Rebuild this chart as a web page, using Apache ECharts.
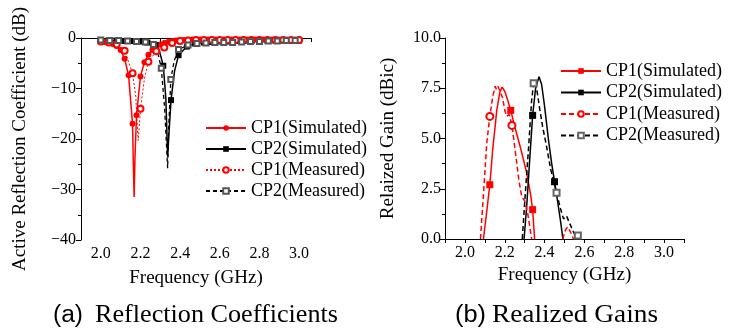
<!DOCTYPE html>
<html>
<head>
<meta charset="utf-8">
<script src="https://cdn.jsdelivr.net/npm/echarts@6/dist/echarts.min.js"></script>
<style>
  html, body { margin: 0; padding: 0; background: #fff; }
  #main { width: 753px; height: 331px; }
</style>
</head>
<body>
<div id="main"></div>
<script>
// ---- (a) active reflection coefficient, [GHz, dB] ----
// points drawn with a marker
const cp1SimS = [[2.00,-0.7],[2.02,-0.8],[2.04,-0.9],[2.06,-1.2],[2.08,-1.6],[2.10,-2.4],[2.12,-4.1],[2.14,-7.4],
  [2.16,-17.0],[2.18,-15.3],[2.20,-7.6],[2.22,-4.8],[2.24,-3.3],[2.26,-2.4],[2.28,-1.8],[2.30,-1.3],[2.32,-1.0],
  [2.34,-0.8],[2.36,-0.6],[2.38,-0.5],[2.40,-0.4],[2.42,-0.4],[2.44,-0.35],[2.46,-0.3],[2.48,-0.3],[2.50,-0.3],
  [2.52,-0.3],[2.54,-0.3],[2.56,-0.3],[2.58,-0.3],[2.60,-0.3],[2.62,-0.3],[2.64,-0.3],[2.66,-0.3],[2.68,-0.3],
  [2.70,-0.3],[2.72,-0.3],[2.74,-0.3],[2.76,-0.3],[2.78,-0.3],[2.80,-0.3],[2.82,-0.3],[2.84,-0.3],[2.86,-0.3],
  [2.88,-0.3],[2.90,-0.3],[2.92,-0.3],[2.94,-0.3],[2.96,-0.3],[2.98,-0.3],[3.00,-0.3]];
// points on the curve only (no marker)
const cp1SimX = [[2.164,-25.0],[2.168,-31.5],[2.172,-24.0]];

const cp1MeaS = [[2.00,-0.7],[2.04,-0.9],[2.08,-1.3],[2.12,-2.5],[2.16,-7.0],[2.20,-14.0],[2.24,-4.7],[2.28,-2.6],
  [2.32,-1.9],[2.36,-1.0],[2.40,-0.6],[2.44,-0.5],[2.48,-0.4],[2.52,-0.4],[2.56,-0.4],[2.60,-0.4],[2.64,-0.4],
  [2.68,-0.4],[2.72,-0.4],[2.76,-0.4],[2.80,-0.4],[2.84,-0.4],[2.88,-0.4],[2.92,-0.4],[2.96,-0.4],[3.00,-0.4]];
const cp1MeaX = [[2.176,-11.5],[2.188,-20.3],[2.193,-18.0],[2.22,-8.0]];

const cp2SimS = [[2.00,-0.5],[2.04,-0.5],[2.08,-0.5],[2.12,-0.6],[2.16,-0.6],[2.20,-0.7],[2.235,-0.9],[2.275,-1.4],
  [2.315,-5.5],[2.354,-12.3],[2.392,-3.4],[2.434,-1.7],[2.476,-1.1],[2.52,-0.9],[2.56,-0.8],[2.60,-0.7],[2.64,-0.7],
  [2.68,-0.6],[2.72,-0.6],[2.76,-0.6],[2.80,-0.6],[2.84,-0.5],[2.88,-0.5],[2.92,-0.5],[2.96,-0.5],[3.00,-0.5]];
const cp2SimX = [[2.295,-2.5],[2.328,-12.0],[2.337,-23.5],[2.345,-18.0],[2.372,-6.5]];

const cp2MeaS = [[2.00,-0.4],[2.045,-0.5],[2.09,-0.5],[2.135,-0.6],[2.18,-0.7],[2.225,-0.8],[2.265,-1.3],[2.305,-6.0],
  [2.353,-8.2],[2.392,-2.3],[2.44,-1.4],[2.485,-1.1],[2.53,-1.0],[2.575,-0.9],[2.62,-0.9],[2.665,-0.9],[2.71,-0.8],
  [2.755,-0.7],[2.80,-0.7],[2.845,-0.6],[2.89,-0.6],[2.935,-0.5],[2.98,-0.5]];
const cp2MeaX = [[2.285,-2.5],[2.322,-14.0],[2.337,-25.8],[2.343,-17.0],[2.37,-4.5],[3.00,-0.5]];

// ---- (b) realized gain, [GHz, dBic] ----
const g1SimS = [[2.125,2.7],[2.23,6.4],[2.34,1.46]];
const g1SimX = [[2.093,0],[2.11,1.4],[2.14,4.5],[2.16,6.4],[2.175,7.3],[2.187,7.56],[2.20,7.35],[2.215,6.9],
  [2.25,5.6],[2.28,4.5],[2.31,3.3],[2.33,2.2],[2.35,0]];

const g1MeaS = [[2.125,6.1],[2.236,5.65]];
const g1MeaX = [[2.078,0],[2.095,2.5],[2.11,4.8],[2.14,7.1],[2.152,7.6],[2.158,7.45],[2.165,7.6],[2.172,7.45],
  [2.18,7.5],[2.19,7.0],[2.20,6.4],[2.21,6.1],[2.222,6.2],[2.25,4.6],[2.27,3.0],[2.285,2.1],[2.30,1.9],[2.315,1.3],
  [2.335,0],[2.42,null],[2.49,0],[2.505,0.45],[2.515,0.6],[2.53,0.35],[2.545,0]];

const g2SimS = [[2.34,6.15],[2.45,2.85]];
const g2SimX = [[2.297,0],[2.31,1.6],[2.325,3.9],[2.355,7.5],[2.372,8.07],[2.385,7.7],[2.40,6.6],[2.42,4.9],
  [2.435,3.8],[2.465,1.9],[2.48,0.9],[2.492,0]];

const g2MeaS = [[2.345,7.75],[2.46,2.3],[2.567,0.17]];
const g2MeaX = [[2.288,0],[2.30,1.8],[2.32,4.6],[2.335,6.9],[2.352,7.85],[2.36,7.5],[2.375,6.5],[2.39,5.6],
  [2.41,4.6],[2.43,3.5],[2.445,2.9],[2.48,1.5],[2.495,1.0],[2.51,1.15],[2.525,0.8],[2.545,0.35],[2.555,0.15]];

const names = ['CP1(Simulated)', 'CP2(Simulated)', 'CP1(Measured)', 'CP2(Measured)'];

const SERIF = "'Liberation Serif', 'Times New Roman', serif";
const SANS = "'Liberation Sans', Arial, sans-serif";
const RED = '#ff0000';

// merge marked points and plain curve points, sorted by frequency
function build(marked, plain) {
  const pts = marked.map(p => ({ value: p }))
    .concat(plain.map(p => ({ value: [p[0], p[1] === null ? '-' : p[1]], symbol: 'none' })));
  pts.sort((a, b) => a.value[0] - b.value[0]);
  return pts;
}

function freqLabel(v) {
  const t = Math.round(v * 10);
  if (Math.abs(v * 10 - t) > 1e-6 || t % 2) return '';
  return (t / 10).toFixed(1);
}

// stretch the captions to the width they have in the picture
const cv = document.createElement('canvas').getContext('2d');
function fit(text, family, size, w) {
  cv.font = size + 'px ' + family;
  return w / cv.measureText(text).width;
}

const axisLine = { lineStyle: { color: '#000', width: 1 } };
const axisText = { color: '#000', fontFamily: SERIF, fontSize: 16 };
const nameText = { color: '#000', fontFamily: SERIF, fontSize: 19 };

function lineSeries(name, xi, data, sym, size, color, symColor, type, width) {
  return {
    name: name, type: 'line', xAxisIndex: xi, yAxisIndex: xi,
    data: data, symbol: sym, symbolSize: size, showAllSymbol: true,
    lineStyle: { color: color, width: width, type: type },
    itemStyle: { color: symColor, borderWidth: 1 },
    emphasis: { disabled: true }, connectNulls: false
  };
}

var myChart = echarts.init(document.getElementById('main'));
let option = {
  animation: false,
  grid: [
    { left: 81, top: 38, width: 230, height: 202 },
    { left: 445, top: 38, width: 239, height: 201 }
  ],
  xAxis: [
    {
      gridIndex: 0, type: 'value', min: 1.9, max: 3.06, interval: 0.1,
      name: 'Frequency (GHz)', nameLocation: 'middle', nameGap: 29, nameTextStyle: nameText,
      axisLine: axisLine, axisTick: { length: 4, lineStyle: { color: '#000' } },
      axisLabel: Object.assign({ margin: 6, formatter: freqLabel }, axisText),
      splitLine: { show: false }
    },
    {
      gridIndex: 1, type: 'value', min: 1.9, max: 3.1, interval: 0.1,
      name: 'Frequency (GHz)', nameLocation: 'middle', nameGap: 23, nameTextStyle: nameText,
      axisLine: axisLine, axisTick: { length: 4, lineStyle: { color: '#000' } },
      axisLabel: Object.assign({ margin: 6, formatter: freqLabel }, axisText),
      splitLine: { show: false }
    }
  ],
  yAxis: [
    {
      gridIndex: 0, type: 'value', min: -40, max: 0, interval: 10,
      name: 'Active Reflection Coefficient (dB)', nameLocation: 'middle', nameGap: 51, nameTextStyle: nameText,
      axisLine: Object.assign({ show: true }, axisLine),
      axisTick: { show: true, length: 5, lineStyle: { color: '#000' } },
      minorTick: { show: true, splitNumber: 2, length: 3, lineStyle: { color: '#000' } },
      axisLabel: Object.assign({ margin: 5, formatter: v => v < 0 ? '\u2212' + (-v) : String(v) }, axisText),
      splitLine: { show: false }
    },
    {
      gridIndex: 1, type: 'value', min: 0, max: 10, interval: 2.5,
      name: 'Relaized Gain (dBic)', nameLocation: 'middle', nameGap: 47, nameTextStyle: nameText,
      axisLine: Object.assign({ show: true }, axisLine),
      axisTick: { show: true, length: 5, lineStyle: { color: '#000' } },
      minorTick: { show: true, splitNumber: 2, length: 3, lineStyle: { color: '#000' } },
      axisLabel: Object.assign({ margin: 4, formatter: v => v.toFixed(1) }, axisText),
      splitLine: { show: false }
    }
  ],
  legend: [
    {
      orient: 'vertical', left: 200, top: 114, itemWidth: 40, itemHeight: 7, itemGap: 3,
      textStyle: { color: '#000', fontFamily: SERIF, fontSize: 18, lineHeight: 18 },
      data: names, selectedMode: false
    },
    {
      orient: 'vertical', left: 555, top: 57, itemWidth: 40, itemHeight: 7, itemGap: 3.5,
      textStyle: { color: '#000', fontFamily: SERIF, fontSize: 18, lineHeight: 18 },
      data: names.map(n => n + ' '), selectedMode: false
    }
  ],
  series: [
    lineSeries(names[0], 0, build(cp1SimS, cp1SimX), 'circle', 6, RED, RED, 'solid', 1.5),
    lineSeries(names[1], 0, build(cp2SimS, cp2SimX), 'rect', 6, '#000', '#000', 'solid', 1.5),
    lineSeries(names[2], 0, build(cp1MeaS, cp1MeaX), 'emptyCircle', 6, RED, RED, [2, 2], 1),
    lineSeries(names[3], 0, build(cp2MeaS, cp2MeaX), 'emptyRect', 5, '#000', '#555', [4, 3], 1.3),
    lineSeries(names[0] + ' ', 1, build(g1SimS, g1SimX), 'rect', 7, RED, RED, 'solid', 1.5),
    lineSeries(names[1] + ' ', 1, build(g2SimS, g2SimX), 'rect', 7, '#000', '#000', 'solid', 1.5),
    lineSeries(names[2] + ' ', 1, build(g1MeaS, g1MeaX), 'emptyCircle', 7, RED, RED, [5, 3], 1.5),
    lineSeries(names[3] + ' ', 1, build(g2MeaS, g2MeaX), 'emptyRect', 6, '#000', '#666', [5, 3], 1.5)
  ],
  graphic: [
    { type: 'text', x: 53, y: 316, scaleX: fit('(a)', SANS, 23, 30),
      style: { text: '(a)', fontFamily: SANS, fontSize: 23, fill: '#000', verticalAlign: 'middle' } },
    { type: 'text', x: 95, y: 315, scaleX: fit('Reflection Coefficients', SERIF, 25, 243),
      style: { text: 'Reflection Coefficients', fontFamily: SERIF, fontSize: 25, fill: '#000', verticalAlign: 'middle' } },
    { type: 'text', x: 455, y: 316, scaleX: fit('(b)', SANS, 23, 31),
      style: { text: '(b)', fontFamily: SANS, fontSize: 23, fill: '#000', verticalAlign: 'middle' } },
    { type: 'text', x: 492, y: 315, scaleX: fit('Realized Gains', SERIF, 25, 166),
      style: { text: 'Realized Gains', fontFamily: SERIF, fontSize: 25, fill: '#000', verticalAlign: 'middle' } }
  ]
};
option && myChart.setOption(option);
</script>
</body>
</html>
